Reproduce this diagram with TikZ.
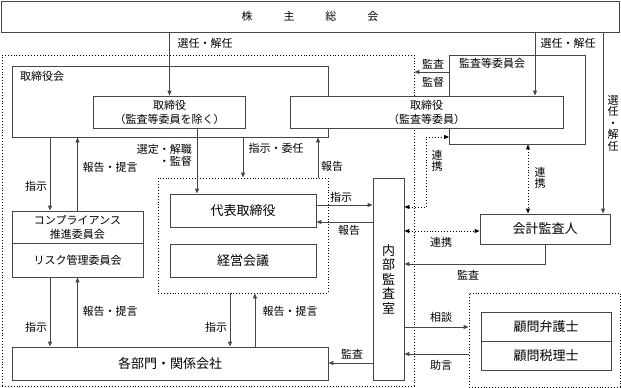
\documentclass[tikz,border=0pt]{standalone}
\usepackage{fontspec}
\setmainfont{Noto Sans CJK JP}
\usetikzlibrary{arrows.meta, positioning, calc}
\definecolor{lineg}{RGB}{70, 70, 70}

\begin{document}
\begin{tikzpicture}[x=1pt, y=-1pt,
  box/.style={draw=lineg, line width=0.9pt, fill=white, inner sep=0pt, align=center, font=\fontsize{13}{15}\selectfont},
  sbox/.style={box, font=\fontsize{11}{14}\selectfont},
  waku/.style={draw=black, dotted, line width=0.9pt, inner sep=0pt},
  arr/.style={draw=lineg, line width=0.9pt, -{Triangle[length=5pt, width=4pt]}},
  darr/.style={draw=black, dotted, line width=0.9pt, {Triangle[length=5pt, width=4pt]}-{Triangle[length=5pt, width=4pt]}},
  lbl/.style={font=\fontsize{11}{12}\selectfont, inner sep=1pt},
  vlbl/.style={lbl, align=center, font=\fontsize{11}{11.5}\selectfont}
]
  \useasboundingbox (0,0) rectangle (621,388);

  % frames
  \node[waku, minimum width=412pt, minimum height=331pt] (shikkou) at (208,220.5) {};
  \node[box, minimum width=316pt, minimum height=71pt] (torikai) at (170,101.5) {};
  \node[lbl, anchor=west] (torikaiT) at (19,76) {取締役会};
  \node[box, minimum width=136pt, minimum height=89pt] (kansakai) at (517.5,99.5) {};
  \node[lbl, anchor=west] (kansakaiT) at (458,63) {監査等委員会};

  \node[box, minimum width=618pt, minimum height=31pt, font=\fontsize{11}{13}\selectfont] (soukai) at (310,16.5)
    {株\hspace{31pt}主\hspace{31pt}総\hspace{31pt}会};
  \node[sbox, minimum width=152pt, minimum height=32pt] (tori1) at (169.5,112) {取締役\\（監査等委員を除く）};
  \node[sbox, minimum width=273pt, minimum height=32pt] (tori2) at (426.5,112) {取締役\\（監査等委員）};

  \node[waku, minimum width=170pt, minimum height=115pt] (keieiwaku) at (243,235.5) {};
  \node[box, minimum width=146pt, minimum height=33pt] (daihyo) at (243,210.5) {代表取締役};
  \node[box, minimum width=146pt, minimum height=33pt] (keiei) at (243,260.5) {経営会議};

  \node[sbox, minimum width=131pt, minimum height=32pt] (compl) at (77.5,227) {コンプライアンス\\推進委員会};
  \node[sbox, minimum width=131pt, minimum height=34pt] (risk) at (77.5,260) {リスク管理委員会};
  \node[box, minimum width=316pt, minimum height=33pt] (kakubu) at (170,363.5) {各部門・関係会社};
  \node[box, minimum width=31pt, minimum height=202pt, font=\fontsize{13}{14.5}\selectfont] (naibu) at (388.5,279)
    {内\\部\\監\\査\\室};

  \node[box, minimum width=130pt, minimum height=30pt] (kaikei) at (545,229) {会計監査人};
  \node[waku, minimum width=151pt, minimum height=94pt] (komonwaku) at (544.5,340) {};
  \node[box, minimum width=130pt, minimum height=29pt] (bengo) at (546,326.5) {顧問弁護士};
  \node[box, minimum width=130pt, minimum height=29pt] (zeiri) at (546,355.5) {顧問税理士};

  % shareholders
  \draw[arr] (soukai.south -| tori1.north) -- (tori1.north);
  \node[lbl] (l1) at (205,43) {選任・解任};
  \draw[arr] (soukai.south -| 535,0) -- (tori2.north -| 535,0);
  \node[lbl] (l2) at (568,43) {選任・解任};
  \draw[arr] (soukai.south -| 603,0) -- (kaikei.north -| 603,0);
  \node[vlbl] (l3) at (613,123) {選\\任\\・\\解\\任};

  \draw[arr] (kansakai.west |- 0,72) -- (shikkou.east |- 0,72);
  \node[lbl] (l4) at (433,64) {監査};
  \node[lbl] (l5) at (433,82) {監督};

  % board
  \draw[arr] (torikai.south -| 50,0) -- (compl.north -| 50,0);
  \node[lbl] (l6) at (36,186) {指示};
  \draw[arr] (compl.north -| 77.5,0) -- (torikai.south -| 77.5,0);
  \node[lbl] (l7) at (110,167) {報告・提言};
  \draw[arr] (tori1.south -| 197,0) -- (daihyo.north -| 197,0);
  \node[lbl, align=right, anchor=east] (l8) at (193,155) {選定・解職\\・監督};
  \draw[arr] (torikai.south -| 243,0) -- (keieiwaku.north -| 243,0);
  \node[lbl] (l9) at (276,148) {指示・委任};
  \draw[arr] (keieiwaku.north -| 318,0) -- (torikai.south -| 318,0);
  \node[lbl] (l10) at (332,166) {報告};

  % departments
  \draw[arr] (risk.south -| 50,0) -- (kakubu.north -| 50,0);
  \node[lbl] (l11) at (36,327) {指示};
  \draw[arr] (kakubu.north -| 77.5,0) -- (risk.south -| 77.5,0);
  \node[lbl] (l12) at (110,311) {報告・提言};
  \draw[arr] (keieiwaku.south -| 230,0) -- (kakubu.north -| 230,0);
  \node[lbl] (l13) at (216,327) {指示};
  \draw[arr] (kakubu.north -| 255,0) -- (keieiwaku.south -| 255,0);
  \node[lbl] (l14) at (290,311) {報告・提言};

  % internal audit
  \draw[arr] (daihyo.east |- 0,205) -- (naibu.west |- 0,205);
  \node[lbl] (l15) at (341,197) {指示};
  \draw[arr] (naibu.west |- 0,222) -- (daihyo.east |- 0,222);
  \node[lbl] (l16) at (349,230) {報告};
  \draw[arr] (naibu.west |- 0,363) -- (kakubu.east |- 0,363);
  \node[lbl] (l17) at (352,354) {監査};

  \draw[darr] (naibu.east |- 0,207) -- ++(22,0) |- (kansakai.west |- 0,137);
  \node[vlbl] (l18) at (437,161) {連\\携};
  \draw[darr] (kansakai.south -| 528,0) -- (kaikei.north -| 528,0);
  \node[vlbl] (l19) at (540,178) {連\\携};
  \draw[darr] (naibu.east |- 0,231) -- (kaikei.west |- 0,231);
  \node[lbl] (l20) at (441,242) {連携};

  \draw[arr] (kaikei.south) |- (naibu.east |- 0,264);
  \node[lbl] (l21) at (468,275) {監査};
  \draw[arr] (naibu.east |- 0,327) -- (komonwaku.west |- 0,327);
  \node[lbl] (l22) at (441,317) {相談};
  \draw[arr] (komonwaku.west |- 0,354) -- (naibu.east |- 0,354);
  \node[lbl] (l23) at (441,365) {助言};
\end{tikzpicture}
\end{document}
